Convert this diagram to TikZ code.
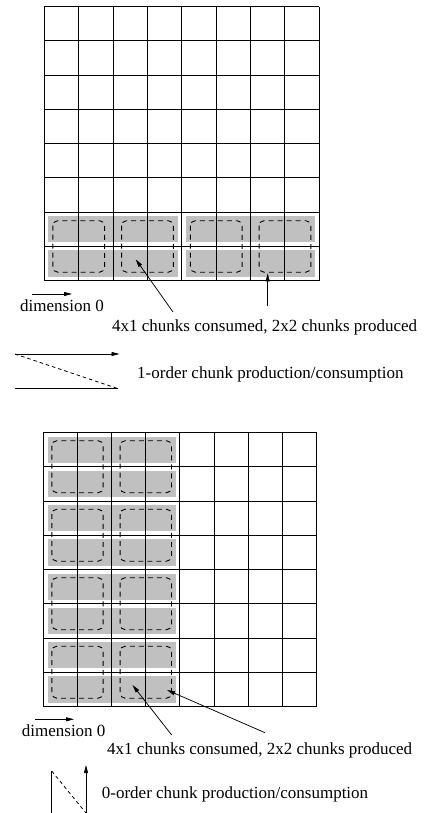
\documentclass[tikz,border=0pt]{standalone}
\usepackage{fontspec}
\setmainfont{Liberation Serif}
\usetikzlibrary{arrows.meta}
\definecolor{chunkgray}{RGB}{192,192,192}
\tikzset{
  gridline/.style={line width=1pt},
  chunkfill/.style={fill=chunkgray, draw=none},
  blockline/.style={draw=black, line width=0.9pt, dash pattern=on 5pt off 4pt, rounded corners=5pt},
  pointer/.style={line width=0.75pt, -{Triangle[length=8pt,width=4pt]}},
  txt/.style={anchor=base west, inner sep=0pt, font=\fontsize{17}{20}\selectfont},
  legendline/.style={line width=0.8pt},
  legenddash/.style={line width=0.8pt, dash pattern=on 3.5pt off 3pt},
}
\begin{document}
\begin{tikzpicture}[x=1pt, y=-1pt]
\useasboundingbox (0,0) rectangle (424,813);

% ---- upper array: one 4x1 chunk row pair in the bottom two rows ----
\begin{scope}[shift={(44.3,6.7)}, x=34.375pt, y=-34.25pt]
  \foreach \r in {6,7} \foreach \c in {0,4}
    \fill[chunkfill] ([xshift=4pt,yshift=-4pt]\c,\r) rectangle ([xshift=-4pt,yshift=4pt]{\c+4},{\r+1});
  \foreach \i in {0,...,8} {
    \draw[gridline] (\i,0) -- (\i,8);
    \draw[gridline] (0,\i) -- (8,\i);
  }
  \foreach \c in {0,2,4,6}
    \draw[blockline] ([xshift=8.5pt,yshift=-8.5pt]\c,6) rectangle ([xshift=-8.5pt,yshift=8.5pt]{\c+2},8);
\end{scope}

% ---- lower array: 4x1 chunks down the left half ----
\begin{scope}[shift={(43.3,432.7)}, x=34.17pt, y=-34.25pt]
  \foreach \r in {0,...,7}
    \fill[chunkfill] ([xshift=4.5pt,yshift=-4pt]0,\r) rectangle ([xshift=-4pt,yshift=4pt]4,{\r+1});
  \foreach \i in {0,...,8} {
    \draw[gridline] (\i,0) -- (\i,8);
    \draw[gridline] (0,\i) -- (8,\i);
  }
  \foreach \r in {0,2,4,6} \foreach \c in {0,2}
    \draw[blockline] ([xshift=8.5pt,yshift=-8pt]\c,\r) rectangle ([xshift=-8.5pt,yshift=8.5pt]{\c+2},{\r+2});
\end{scope}

% ---- labels ----
\node[txt] (dimA) at (20,311.5) {dimension 0};
\node[txt] (chunkA) at (112,331.5) {4x1 chunks consumed, 2x2 chunks produced};
\node[txt] (orderA) at (137,378.5) {1-order chunk production/consumption};
\node[txt] (dimB) at (21.7,736.5) {dimension 0};
\node[txt] (chunkB) at (107,754.5) {4x1 chunks consumed, 2x2 chunks produced};
\node[txt] (orderB) at (101.7,798.5) {0-order chunk production/consumption};

% ---- pointer ends ----
\coordinate (dimAs) at (32.3,294);   \coordinate (dimAe) at (72,294);
\coordinate (pA1s) at (173,312);     \coordinate (pA1e) at (135.7,259.3);
\coordinate (pA2s) at (267.7,306);   \coordinate (pA2e) at (267.7,273.3);
\coordinate (dimBs) at (35,719.3);   \coordinate (dimBe) at (74,719.3);
\coordinate (pB1s) at (171.7,735);   \coordinate (pB1e) at (132.5,685);
\coordinate (pB2s) at (265,732.7);   \coordinate (pB2e) at (167,690);

\draw[pointer] (dimAs) -- (dimAe);
\draw[pointer] (pA1s) -- (pA1e);
\draw[pointer] (pA2s) -- (pA2e);
\draw[pointer] (dimBs) -- (dimBe);
\draw[pointer] (pB1s) -- (pB1e);
\draw[pointer] (pB2s) -- (pB2e);

% ---- legend: 1-order traversal ----
\coordinate (lAtl) at (15,354);   \coordinate (lAtr) at (119.5,354);
\coordinate (lAbl) at (15,388.5); \coordinate (lAbr) at (117.5,388.5);
\draw[legendline] (lAbl) -- (lAbr);
\draw[legenddash] (lAtl) -- (lAbr);
\draw[pointer] (lAtl) -- (lAtr);

% ---- legend: 0-order traversal ----
\coordinate (lBtl) at (51.7,771);  \coordinate (lBbl) at (51.7,813);
\coordinate (lBbr) at (86,813);    \coordinate (lBtr) at (86,765);
\draw[legendline] (lBtl) -- (lBbl);
\draw[legenddash] (lBtl) -- (lBbr);
\draw[pointer] (lBbr) -- (lBtr);
\end{tikzpicture}
\end{document}
